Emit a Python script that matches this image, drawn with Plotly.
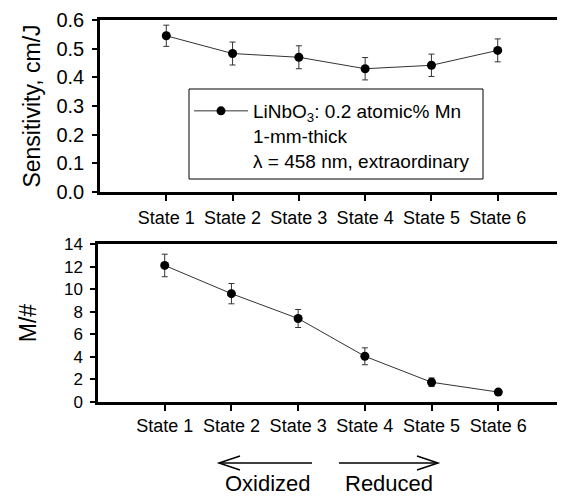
import plotly.graph_objects as go

# ---- data ----
states = ["State 1", "State 2", "State 3", "State 4", "State 5", "State 6"]
state_pos = [1, 2, 3, 4, 5, 6]
sensitivity = [0.545, 0.483, 0.470, 0.430, 0.442, 0.494]
sensitivity_err = [0.037, 0.040, 0.040, 0.039, 0.039, 0.040]
m_number = [12.1, 9.6, 7.4, 4.05, 1.75, 0.88]
m_number_err = [1.0, 0.9, 0.8, 0.75, 0.38, 0.1]
sens_ticks = [0.0, 0.1, 0.2, 0.3, 0.4, 0.5, 0.6]
m_ticks = [0, 2, 4, 6, 8, 10, 12, 14]

# the page body has an 8px margin, so the figure is sized to fit the window
OFF = 8
W, H = 565 - OFF, 502 - 2 * OFF
FONT = "Liberation Sans, Arial, sans-serif"

def px(x):
    """window pixel x -> paper fraction"""
    return (x - OFF) / W

def py(y):
    """window pixel y -> paper fraction"""
    return 1 - (y - OFF) / H

fig = go.Figure()

fig.add_trace(go.Scatter(
    x=state_pos, y=sensitivity, mode="lines+markers",
    name="LiNbO<sub>3</sub>: 0.2 atomic% Mn<br>1-mm-thick<br>λ = 458 nm, extraordinary",
    line=dict(color="#333333", width=1),
    marker=dict(color="black", size=9, symbol="circle"),
    error_y=dict(type="data", array=sensitivity_err, visible=True,
                 color="#333333", thickness=1, width=3),
    xaxis="x", yaxis="y", showlegend=True,
))

fig.add_trace(go.Scatter(
    x=state_pos, y=m_number, mode="lines+markers",
    line=dict(color="#333333", width=1),
    marker=dict(color="black", size=9, symbol="circle"),
    error_y=dict(type="data", array=m_number_err, visible=True,
                 color="#333333", thickness=1, width=3),
    xaxis="x2", yaxis="y2", showlegend=False,
))

axis_common = dict(
    showline=True, linecolor="black", linewidth=2.5,
    showgrid=False, zeroline=False, ticks="outside", tickcolor="black",
    automargin=False,
)
XT = dict(family=FONT, size=18, color="black")

fig.update_layout(
    width=W, height=H,
    margin=dict(l=0, r=0, t=0, b=0),
    paper_bgcolor="white", plot_bgcolor="white",
    font=dict(family=FONT, color="black"),
    xaxis=dict(domain=[px(100), px(564)], range=[0, 7], anchor="y", mirror=True,
               tickvals=state_pos, ticktext=states, ticklen=6, tickwidth=1.5,
               ticklabelstandoff=2, tickfont=XT, **axis_common),
    yaxis=dict(domain=[py(192), py(20)], range=[0, 0.6], anchor="x", mirror=True,
               tickvals=sens_ticks, tickformat=".1f", ticklen=5, tickwidth=1.5,
               ticklabelstandoff=4,
               tickfont=dict(family=FONT, size=20, color="black"),
               title=dict(text="Sensitivity, cm/J", font=dict(family=FONT, size=23), standoff=10),
               **axis_common),
    xaxis2=dict(domain=[px(98), 1.0], range=[0, 7], anchor="y2", mirror=True,
                tickvals=state_pos, ticktext=states, ticklen=6, tickwidth=1.5,
                ticklabelstandoff=0, tickfont=XT, **axis_common),
    yaxis2=dict(domain=[py(402), py(244)], range=[0, 14], anchor="x2", mirror=False,
                tickvals=m_ticks, ticklen=5, tickwidth=1.5, ticklabelstandoff=4,
                tickfont=dict(family=FONT, size=17, color="black"),
                title=dict(text="M/#", font=dict(family=FONT, size=23), standoff=21),
                **axis_common),
    legend=dict(x=px(189), y=py(92), xanchor="left", yanchor="top",
                borderwidth=0, bgcolor="rgba(0,0,0,0)",
                font=dict(family=FONT, size=19, color="black"),
                valign="top", itemwidth=54, tracegroupgap=0),
)

# legend frame, Oxidized / Reduced arrows
arrow_y = py(463)
head_dx = 21 / W
head_dy = 7 / H
shapes = [
    dict(type="rect", xref="paper", yref="paper", x0=px(189), x1=px(483), y0=py(179), y1=py(89),
         line=dict(color="black", width=1), fillcolor="rgba(0,0,0,0)", layer="below"),
    dict(type="line", xref="paper", yref="paper", x0=px(219), x1=px(312), y0=arrow_y, y1=arrow_y,
         line=dict(color="black", width=1.5)),
    dict(type="path", xref="paper", yref="paper",
         path=f"M {px(219)+head_dx} {arrow_y+head_dy} L {px(219)} {arrow_y} L {px(219)+head_dx} {arrow_y-head_dy}",
         line=dict(color="black", width=1.5)),
    dict(type="line", xref="paper", yref="paper", x0=px(339), x1=px(438), y0=arrow_y, y1=arrow_y,
         line=dict(color="black", width=1.5)),
    dict(type="path", xref="paper", yref="paper",
         path=f"M {px(438)-head_dx} {arrow_y+head_dy} L {px(438)} {arrow_y} L {px(438)-head_dx} {arrow_y-head_dy}",
         line=dict(color="black", width=1.5)),
]
fig.update_layout(shapes=shapes)

fig.add_annotation(x=px(268), y=py(483), xref="paper", yref="paper", text="Oxidized",
                   xanchor="center", yanchor="middle",
                   showarrow=False, font=dict(family=FONT, size=22, color="black"))
fig.add_annotation(x=px(389), y=py(483), xref="paper", yref="paper", text="Reduced",
                   xanchor="center", yanchor="middle",
                   showarrow=False, font=dict(family=FONT, size=22, color="black"))

fig.write_html("out.html")
